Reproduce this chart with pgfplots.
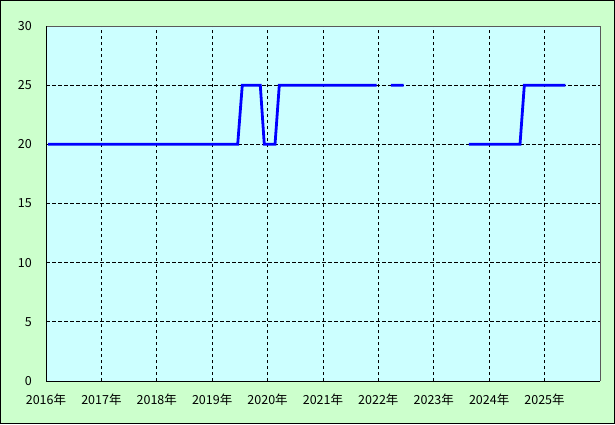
\documentclass[border=0pt]{standalone}
\usepackage{fontspec}
\setmainfont{Noto Sans CJK JP}
\usepackage{pgfplots}
\pgfplotsset{compat=1.18}
\definecolor{outerbg}{HTML}{CCFFCC}
\definecolor{innerbg}{HTML}{CCFFFF}
\begin{document}
\begin{tikzpicture}[x=1pt,y=1pt]
\path[use as bounding box] (0,0) rectangle (615,424);
\fill[outerbg] (0,0) rectangle (615,424);
\draw[black,line width=1pt] (0.5,0.5) rectangle (614.5,423.5);
\begin{axis}[
  at={(46pt,43pt)}, anchor=south west,
  scale only axis, width=554pt, height=355pt,
  xmin=2016, xmax=2026, ymin=0, ymax=30,
  axis background/.style={fill=innerbg},
  axis line style={draw=none},
  xtick={2016,...,2025},
  xticklabels={2016年,2017年,2018年,2019年,2020年,2021年,2022年,2023年,2024年,2025年},
  ytick={0,5,...,30},
  yticklabels={0,5,10,15,20,25,30},
  major tick length=0pt,
  xmajorgrids, ymajorgrids,
  grid style={black, line width=0.8pt, dash pattern=on 3.5pt off 2.5pt},
  ticklabel style={font=\fontsize{12.5}{14}\selectfont, inner sep=0pt},
  xticklabel style={anchor=center, yshift=-18.5pt},
  yticklabel style={anchor=east, xshift=-14pt},
  unbounded coords=jump,
  clip=true,
  after end axis/.code={
    \draw[gray!70!black, line width=1pt] (rel axis cs:0,1) -- (rel axis cs:1,1) -- (rel axis cs:1,0);
    \draw[black, line width=1pt] (rel axis cs:0,1) -- (rel axis cs:0,0) -- (rel axis cs:1,0);
  },
]
\addplot[blue, line width=2.8pt, line join=miter] coordinates {
  (2016.04,20) (2019.46,20) (2019.543,25) (2019.868,25) (2019.94,20)
  (2020.134,20) (2020.211,25) (2021.969,25)
  (2022.1,nan)
  (2022.227,25) (2022.457,25)
  (2022.6,nan)
  (2023.635,20) (2024.556,20) (2024.634,25) (2025.374,25)
};
\end{axis}
\end{tikzpicture}
\end{document}
